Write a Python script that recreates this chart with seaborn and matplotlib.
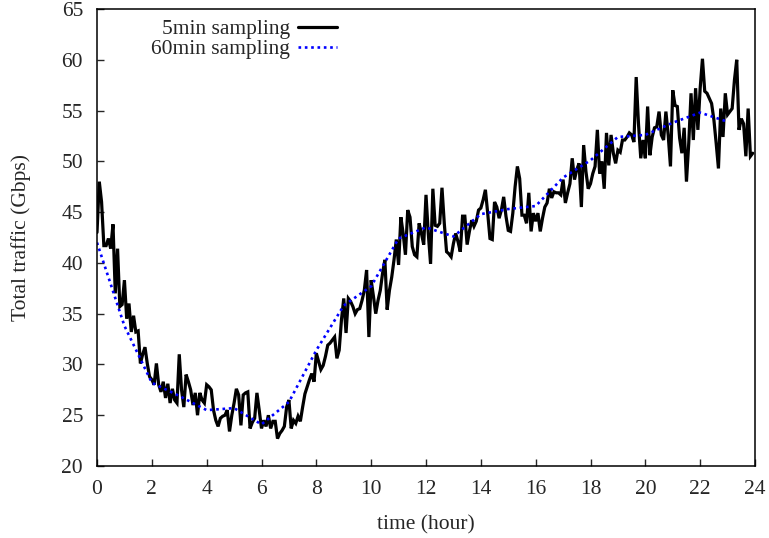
import numpy as np
import pandas as pd
import matplotlib
matplotlib.use("Agg")
import matplotlib.pyplot as plt
import seaborn as sns

# Total traffic sampled every 5 minutes (288 samples over 24 h), in Gbps
traffic_5min = [
    # 00h
    43.0, 48.0, 46.0, 41.7, 41.7, 42.4, 41.4, 43.8, 37.0, 41.4, 35.7, 35.9,
    # 01h
    38.3, 34.5, 36.0, 33.2, 34.8, 33.2, 33.3, 30.1, 31.0, 31.7, 30.1, 28.8,
    # 02h
    28.5, 28.0, 30.1, 28.0, 27.3, 28.3, 26.7, 28.1, 26.2, 27.6, 26.5, 26.2,
    # 03h
    31.0, 27.5, 25.8, 29.0, 28.3, 27.5, 26.0, 27.2, 25.0, 27.2, 26.5, 26.2,
    # 04h
    28.0, 27.8, 27.5, 25.5, 24.5, 23.9, 24.7, 24.9, 25.0, 25.5, 23.4, 25.0,
    # 05h
    26.2, 27.6, 27.0, 24.0, 27.0, 27.2, 27.3, 23.7, 24.3, 24.7, 27.2, 25.5,
    # 06h
    23.7, 24.5, 23.9, 25.0, 23.7, 24.4, 24.4, 22.7, 23.2, 23.5, 23.9, 25.8,
    # 07h
    26.5, 23.7, 24.5, 24.2, 24.9, 24.4, 25.8, 27.1, 27.8, 28.5, 29.1, 28.3,
    # 08h
    31.1, 30.3, 29.5, 29.9, 30.8, 31.9, 32.1, 32.4, 32.7, 30.6, 31.4, 34.4,
    # 09h
    36.5, 33.1, 36.5, 36.2, 35.7, 35.0, 35.4, 35.5, 36.3, 37.3, 39.3, 32.7,
    # 10h
    38.3, 36.7, 35.0, 36.3, 37.3, 39.0, 40.3, 35.4, 37.3, 38.6, 40.3, 42.3,
    # 11h
    39.8, 44.5, 42.9, 40.8, 45.2, 44.5, 41.6, 40.8, 40.6, 43.9, 42.9, 41.8,
    # 12h
    46.7, 42.9, 39.9, 47.3, 43.7, 43.6, 43.9, 47.4, 43.9, 41.1, 40.9, 40.6,
    # 13h
    41.9, 42.9, 42.1, 41.1, 44.6, 44.6, 41.8, 43.1, 44.2, 43.6, 44.1, 45.2,
    # 14h
    45.4, 46.2, 47.2, 44.9, 42.4, 42.3, 46.0, 45.5, 44.4, 45.2, 46.5, 44.6,
    # 15h
    43.2, 43.1, 44.9, 47.5, 49.5, 48.3, 44.7, 44.7, 43.9, 46.9, 43.1, 44.9,
    # 16h
    44.1, 44.9, 43.1, 44.4, 45.5, 45.9, 47.3, 46.4, 47.0, 46.9, 46.9, 46.7,
    # 17h
    48.2, 45.9, 46.9, 47.8, 50.3, 48.2, 49.2, 49.8, 45.5, 51.6, 49.0, 47.3,
    # 18h
    47.8, 48.8, 49.5, 53.1, 48.8, 50.0, 47.3, 52.8, 49.6, 52.6, 50.8, 49.8,
    # 19h
    51.1, 50.9, 52.1, 52.1, 52.4, 52.8, 52.6, 51.9, 58.3, 53.7, 50.3, 52.1,
    # 20h
    50.3, 55.4, 50.6, 52.4, 53.3, 53.4, 54.9, 52.6, 52.1, 54.9, 52.6, 49.5,
    # 21h
    57.0, 55.5, 55.4, 52.3, 50.8, 53.3, 48.0, 51.8, 56.7, 52.1, 57.2, 53.1,
    # 22h
    57.2, 60.1, 56.9, 56.7, 56.2, 55.7, 54.1, 51.8, 49.3, 55.2, 52.4, 56.7,
    # 23h
    54.6, 54.9, 55.2, 58.0, 60.0, 53.1, 54.2, 53.7, 50.5, 55.2, 50.5, 50.8,
]

# Hourly samples of the same traffic, in Gbps
traffic_60min = [
    42.0, 33.8, 28.2, 26.9, 25.5, 25.7, 24.1, 26.3, 31.4, 35.8, 37.7, 42.4,
    43.5, 42.6, 44.8, 45.3, 45.6, 48.4, 50.1, 52.4, 52.6, 53.8, 54.8, 53.9,
]

x_ticks = list(range(0, 25, 2))
y_ticks = list(range(20, 66, 5))

df5 = pd.DataFrame({"hour": np.arange(len(traffic_5min)) / 12.0,
                    "traffic": traffic_5min})
df60 = pd.DataFrame({"hour": np.arange(len(traffic_60min), dtype=float),
                     "traffic": traffic_60min})

sns.set_theme(style="ticks")
plt.rcParams["font.family"] = ["Liberation Serif", "DejaVu Serif"]
plt.rcParams["font.size"] = 15.5

fig = plt.figure(figsize=(7.69, 5.38), dpi=100)
ax = fig.add_axes([97 / 769, 1 - 466 / 538, (755 - 97) / 769, (466 - 9) / 538])

sns.lineplot(data=df5, x="hour", y="traffic", ax=ax, color="black",
             linewidth=2.3, label="5min sampling", solid_joinstyle="miter")
sns.lineplot(data=df60, x="hour", y="traffic", ax=ax, color="#0000ff",
             linewidth=1.9, linestyle=(0, (1, 1.4)), label="60min sampling")

ax.set_xlim(0, 24)
ax.set_ylim(20, 65)
ax.set_xticks(x_ticks)
ax.set_yticks(y_ticks)
ax.tick_params(axis="both", direction="in", length=5, width=1.0,
               labelsize=15.5, pad=10, top=False, right=False)
for s in ax.spines.values():
    s.set_linewidth(1.1)
    s.set_color("black")

ax.set_xlabel("time (hour)", fontsize=15.5, labelpad=12)
ax.set_ylabel("Total traffic (Gbps)", fontsize=15.5, labelpad=22)

leg = ax.legend(loc="upper right", bbox_to_anchor=(337 / 769, 1 - 19 / 538),
                bbox_transform=fig.transFigure, frameon=False,
                markerfirst=False, handlelength=1.8, handletextpad=0.4,
                labelspacing=0.0, borderpad=0, borderaxespad=0,
                fontsize=15.5)

fig.savefig("out.png", dpi=100)
